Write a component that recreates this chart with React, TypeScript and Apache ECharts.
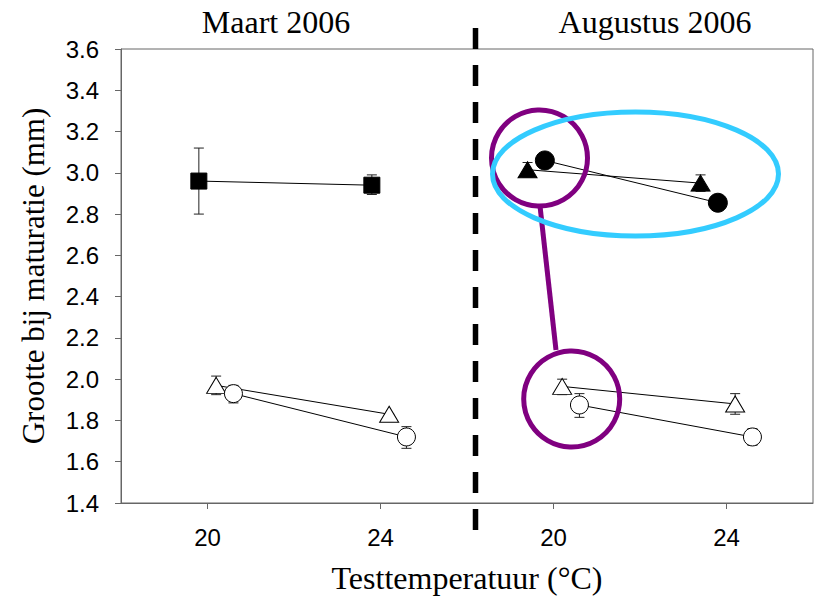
import React, { useEffect, useRef } from "react";
import * as echarts from "echarts";

// Axis ticks (continuous axis, August panel shifted by +8)
const tickValues = [20, 24, 28, 32];
const tickLabels = ["20", "24", "20", "24"];
const augustOffset = 8;

// Maart 2006 — filled squares
const maSqX = [19.8, 23.8];
const maSqY = [2.96, 2.94];
const maSqLo = [2.8, 2.895];
const maSqHi = [3.12, 2.99];

// Maart 2006 — open triangles
const maTriX = [20.2, 24.2];
const maTriY = [1.97, 1.83];
const maTriLo = [1.925, 1.83];
const maTriHi = [2.015, 1.83];

// Maart 2006 — open circles
const maCirX = [20.6, 24.6];
const maCirY = [1.93, 1.72];
const maCirLo = [1.885, 1.665];
const maCirHi = [1.97, 1.77];

// Augustus 2006 — filled triangles
const auFTriX = [19.4, 23.4];
const auFTriY = [3.015, 2.95];
const auFTriLo = [2.98, 2.91];
const auFTriHi = [3.05, 2.99];

// Augustus 2006 — filled circles
const auFCirX = [19.8, 23.8];
const auFCirY = [3.06, 2.855];

// Augustus 2006 — open triangles
const auTriX = [20.2, 24.2];
const auTriY = [1.965, 1.88];
const auTriLo = [1.925, 1.83];
const auTriHi = [2.0, 1.93];

// Augustus 2006 — open circles
const auCirX = [20.6, 24.6];
const auCirY = [1.875, 1.72];
const auCirLo = [1.815, 1.68];
const auCirHi = [1.93, 1.76];

const serif = "Liberation Serif";
const sans = "Liberation Sans";

function pts(xs: number[], ys: number[], off = 0) {
  return xs.map((x, i) => [x + off, ys[i]]);
}
function errs(xs: number[], lo: number[], hi: number[], off = 0) {
  return xs.map((x, i) => [x + off, lo[i], hi[i]]);
}

function lineSeries(
  name: string,
  data: number[][],
  symbol: string,
  size: number | number[],
  fill: string
) {
  return {
    name,
    type: "line",
    data,
    symbol,
    symbolSize: size,
    showSymbol: true,
    z: 5,
    itemStyle: { color: fill, borderColor: "#000", borderWidth: 1 },
    lineStyle: { color: "#000", width: 1 },
    emphasis: { disabled: true },
  };
}

function errorSeries(data: number[][]) {
  return {
    type: "custom",
    z: 3,
    data,
    encode: { x: 0, y: [1, 2] },
    renderItem: (_p: any, api: any) => {
      const x = api.value(0);
      const top = api.coord([x, api.value(2)]);
      const bot = api.coord([x, api.value(1)]);
      const w = 5;
      const style = { stroke: "#222", lineWidth: 1 };
      return {
        type: "group",
        children: [
          { type: "line", shape: { x1: top[0], y1: top[1], x2: bot[0], y2: bot[1] }, style },
          { type: "line", shape: { x1: top[0] - w, y1: top[1], x2: top[0] + w, y2: top[1] }, style },
          { type: "line", shape: { x1: bot[0] - w, y1: bot[1], x2: bot[0] + w, y2: bot[1] }, style },
        ],
      };
    },
  };
}

export default function App() {
  const ref = useRef<HTMLDivElement>(null);

  useEffect(() => {
    if (!ref.current) return;
    const chart = echarts.init(ref.current, null, { renderer: "svg" });
    const axisColor = "#666";
    chart.setOption({
      animation: false,
      grid: {
        left: 121,
        right: 4,
        top: 49,
        bottom: 98,
        show: true,
        borderColor: axisColor,
        borderWidth: 1,
        backgroundColor: "transparent",
      },
      xAxis: {
        type: "value",
        min: 18,
        max: 34,
        name: "Testtemperatuur (°C)",
        nameLocation: "middle",
        nameGap: 59,
        nameTextStyle: { fontFamily: serif, fontSize: 32, color: "#000" },
        axisLine: { show: true, lineStyle: { color: axisColor, width: 1 } },
        axisTick: { show: true, length: 6, customValues: tickValues, lineStyle: { color: axisColor } },
        axisLabel: {
          customValues: tickValues,
          formatter: (v: number) => tickLabels[tickValues.indexOf(v)] ?? "",
          fontFamily: sans,
          fontSize: 24,
          color: "#000",
          margin: 22,
        },
        splitLine: { show: false },
      },
      yAxis: {
        type: "value",
        min: 1.4,
        max: 3.6,
        interval: 0.2,
        name: "Grootte bij maturatie (mm)",
        nameLocation: "middle",
        nameRotate: 90,
        nameGap: 72,
        nameTextStyle: { fontFamily: serif, fontSize: 31, color: "#000" },
        axisLine: { show: true, lineStyle: { color: axisColor, width: 1 } },
        axisTick: { show: true, length: 6, lineStyle: { color: axisColor } },
        axisLabel: {
          formatter: (v: number) => v.toFixed(1),
          fontFamily: sans,
          fontSize: 24,
          color: "#000",
          margin: 22,
        },
        splitLine: { show: false },
      },
      graphic: [
        {
          type: "text",
          x: 276,
          y: 22,
          style: { text: "Maart 2006", fontFamily: serif, fontSize: 32, fill: "#000", align: "center", verticalAlign: "middle" },
        },
        {
          type: "text",
          x: 655,
          y: 22,
          style: { text: "Augustus 2006", fontFamily: serif, fontSize: 32, fill: "#000", align: "center", verticalAlign: "middle" },
        },
        {
          type: "line",
          z: 10,
          shape: { x1: 475.5, y1: 28, x2: 475.5, y2: 530 },
          style: { stroke: "#000", lineWidth: 5.5, lineDash: [21, 16] },
        },
        {
          type: "line",
          z: 20,
          shape: { x1: 540, y1: 206, x2: 556, y2: 350 },
          style: { stroke: "#800080", lineWidth: 5 },
        },
        {
          type: "circle",
          z: 20,
          shape: { cx: 539.5, cy: 158, r: 48 },
          style: { stroke: "#800080", lineWidth: 5, fill: "none" },
        },
        {
          type: "ellipse",
          z: 21,
          shape: { cx: 635.5, cy: 174, rx: 143, ry: 62 },
          style: { stroke: "#33CCFF", lineWidth: 5, fill: "none" },
        },
        {
          type: "circle",
          z: 20,
          shape: { cx: 571.7, cy: 399, r: 48 },
          style: { stroke: "#800080", lineWidth: 5, fill: "none" },
        },
      ],
      series: [
        errorSeries(errs(maSqX, maSqLo, maSqHi)),
        errorSeries(errs(maTriX, maTriLo, maTriHi)),
        errorSeries(errs(maCirX, maCirLo, maCirHi)),
        errorSeries(errs(auFTriX, auFTriLo, auFTriHi, augustOffset)),
        errorSeries(errs(auTriX, auTriLo, auTriHi, augustOffset)),
        errorSeries(errs(auCirX, auCirLo, auCirHi, augustOffset)),
        lineSeries("Maart vierkant", pts(maSqX, maSqY), "rect", 16, "#000"),
        lineSeries("Maart driehoek", pts(maTriX, maTriY), "triangle", [19, 16], "#fff"),
        lineSeries("Maart cirkel", pts(maCirX, maCirY), "circle", 18, "#fff"),
        lineSeries("Augustus driehoek gevuld", pts(auFTriX, auFTriY, augustOffset), "triangle", [19, 16], "#000"),
        lineSeries("Augustus cirkel gevuld", pts(auFCirX, auFCirY, augustOffset), "circle", 19, "#000"),
        lineSeries("Augustus driehoek", pts(auTriX, auTriY, augustOffset), "triangle", [19, 16], "#fff"),
        lineSeries("Augustus cirkel", pts(auCirX, auCirY, augustOffset), "circle", 18, "#fff"),
      ],
    });
    return () => chart.dispose();
  }, []);

  return <div ref={ref} style={{ width: 817, height: 601, position: "absolute", left: 0, top: 0 }} />;
}
